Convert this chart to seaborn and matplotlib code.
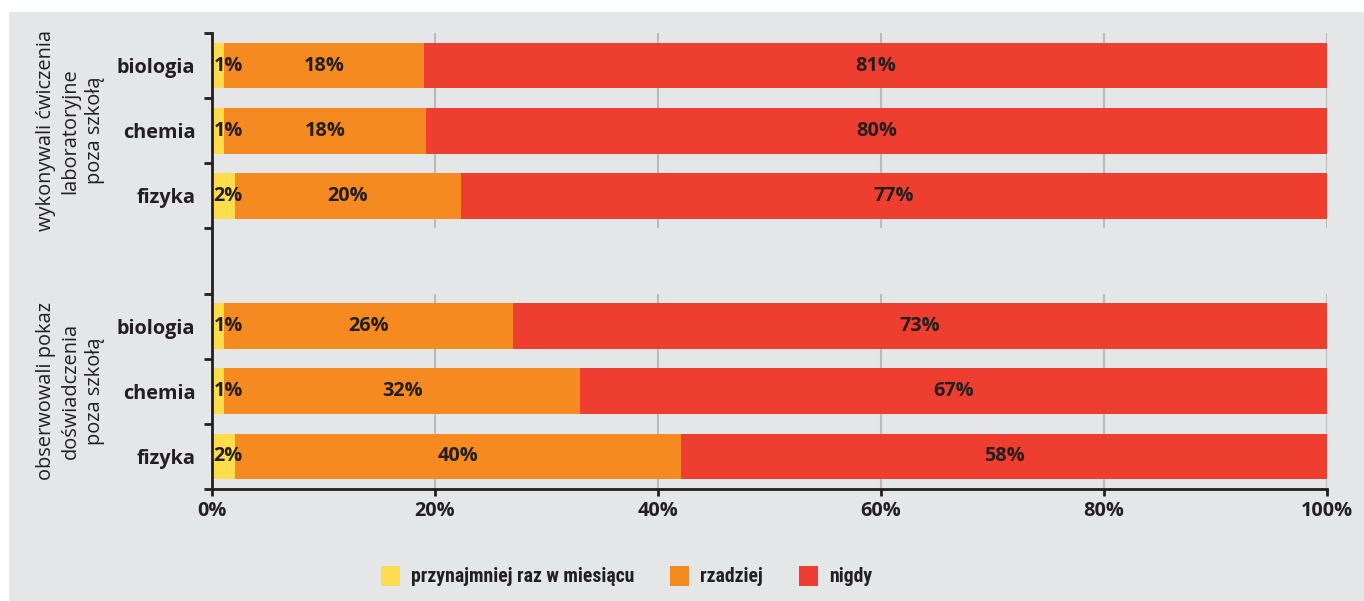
import matplotlib
matplotlib.use("Agg")
import matplotlib.pyplot as plt
from matplotlib.patches import Patch, Rectangle
from matplotlib import font_manager
from matplotlib.font_manager import FontProperties
from matplotlib.textpath import TextPath
import seaborn as sns
import pandas as pd
import numpy as np

# ---- data ----
groups = ["wykonywali ćwiczenia\nlaboratoryjne\npoza szkołą",
          "obserwowali pokaz\ndoświadczenia\npoza szkołą"]
subjects = ["biologia", "chemia", "fizyka"]
series_names = ["przynajmniej raz w miesiącu", "rzadziej", "nigdy"]
# estimated shares (%) for each row: group 1 (bio, chem, fiz), group 2 (bio, chem, fiz)
monthly = [1.1, 1.1, 2.1, 1.1, 1.1, 2.1]
rarely = [17.9, 18.1, 20.2, 25.9, 31.9, 40.0]
never = [81.0, 80.8, 77.7, 73.0, 67.0, 57.9]
# labels as printed on the chart
monthly_lbl = ["1%", "1%", "2%", "1%", "1%", "2%"]
rarely_lbl = ["18%", "18%", "20%", "26%", "32%", "40%"]
never_lbl = ["81%", "80%", "77%", "73%", "67%", "58%"]
xticks = [0, 20, 40, 60, 80, 100]
xtick_labels = ["0%", "20%", "40%", "60%", "80%", "100%"]

colors = ["#FEDD4D", "#F58A20", "#EE3E30"]
BG = "#E5E6E8"
TXT = "#231F20"
FONT = "Open Sans"
installed = {f.name for f in font_manager.fontManager.ttflist}
LEG_FONT = "Lato"
for cand in ["Roboto Condensed", "Liberation Sans Narrow", "Open Sans Condensed", "Lato"]:
    if cand in installed:
        LEG_FONT = cand
        break
FS = 14.3

sns.set_theme(style="white")
plt.rcParams["font.family"] = [FONT, "DejaVu Sans"]

# legend font size chosen so that the first entry is ~222 px wide
_fp = FontProperties(family=[LEG_FONT, "DejaVu Sans"], weight="bold", size=10)
_w = TextPath((0, 0), series_names[0], prop=_fp).get_extents().width * 100 / 72
LEG_FS = min(14.5, 10 * 222 / _w)

# positions: 3 rows per group, one empty slot between groups
pos = []
for g in range(len(groups)):
    for s in range(len(subjects)):
        pos.append(g * (len(subjects) + 1) + s)
pos = np.array(pos, dtype=float)

df = pd.DataFrame({
    "pos": pos,
    "monthly": monthly,
    "rarely": rarely,
    "never": never,
})
df["c1"] = df["monthly"]
df["c2"] = df["monthly"] + df["rarely"]
df["c3"] = df["c2"] + df["never"]

fig = plt.figure(figsize=(13.64, 6.01), dpi=100)
fig.patch.set_facecolor("white")
fig.patches.append(Rectangle((9 / 1364, 0), 1 - 9 / 1364, 1 - 12 / 601,
                             transform=fig.transFigure, facecolor=BG,
                             edgecolor="none", zorder=-10))

L, R = 212 / 1364, 1327 / 1364
B, T = 1 - 489 / 601, 1 - 33 / 601
ax = fig.add_axes([L, B, R - L, T - B])
ax.set_facecolor(BG)
ax.patch.set_alpha(0)

# gridlines per group
for g in range(len(groups)):
    y0 = g * (len(subjects) + 1) - 0.5
    y1 = y0 + len(subjects)
    ax.vlines(xticks[1:], y0, y1, colors="#B9BABC", linewidth=1.5, zorder=0)

for col, c in zip(["c3", "c2", "c1"], colors[::-1]):
    sns.barplot(data=df, x=col, y="pos", orient="y", native_scale=True,
                color=c, width=0.7, saturation=1, ax=ax, zorder=2,
                linewidth=0)

# value labels
for i, p in enumerate(pos):
    ax.text(0.15, p, monthly_lbl[i], ha="left", va="center", fontsize=FS,
            fontweight="bold", color=TXT, zorder=5)
    ax.text(df["c1"][i] + rarely[i] / 2, p, rarely_lbl[i], ha="center",
            va="center", fontsize=FS, fontweight="bold", color=TXT, zorder=5)
    ax.text(df["c2"][i] + never[i] / 2, p, never_lbl[i], ha="center",
            va="center", fontsize=FS, fontweight="bold", color=TXT, zorder=5)

n_slots = len(groups) * (len(subjects) + 1) - 1
ax.set_ylim(n_slots - 0.5, -0.5)
ax.set_xlim(0, 100)

ax.set_yticks(np.arange(-0.5, n_slots, 1.0))
ax.set_yticklabels([])
ax.set_yticks(pos, minor=True)
ax.set_yticklabels([subjects[i % len(subjects)] for i in range(len(pos))],
                   minor=True, fontsize=FS, fontweight="bold", color=TXT)
ax.tick_params(axis="y", which="major", length=6, width=2, color=TXT,
               direction="out", left=True)
ax.tick_params(axis="y", which="minor", length=0, pad=12)

ax.set_xticks(xticks)
ax.set_xticklabels(xtick_labels, fontsize=FS, fontweight="bold", color=TXT)
ax.tick_params(axis="x", length=5, width=2, color=TXT, direction="out",
               bottom=True, pad=4)
ax.set_xlabel("")
ax.set_ylabel("")

for s in ["top", "right"]:
    ax.spines[s].set_visible(False)
for s in ["left", "bottom"]:
    ax.spines[s].set_color(TXT)
    ax.spines[s].set_linewidth(2)

# group labels
for g, name in enumerate(groups):
    yc = g * (len(subjects) + 1) + (len(subjects) - 1) / 2
    ax.text(-12.7, yc, name, rotation=90, ha="center", va="center",
            fontsize=14.4, color=TXT, linespacing=1.3,
            transform=ax.transData, clip_on=False)

handles = [Patch(facecolor=c, edgecolor="none") for c in colors]
leg_px = LEG_FS * 100 / 72
fig.legend(handles, series_names, loc="center", ncol=3,
           bbox_to_anchor=(626.5 / 1364, 25 / 601), frameon=False,
           prop={"family": [LEG_FONT, "DejaVu Sans"], "weight": "bold", "size": LEG_FS},
           handlelength=19 / leg_px, handleheight=23 / leg_px,
           handletextpad=11 / leg_px, columnspacing=36 / leg_px,
           labelcolor=TXT)

fig.savefig("out.png", dpi=100, facecolor="white")
